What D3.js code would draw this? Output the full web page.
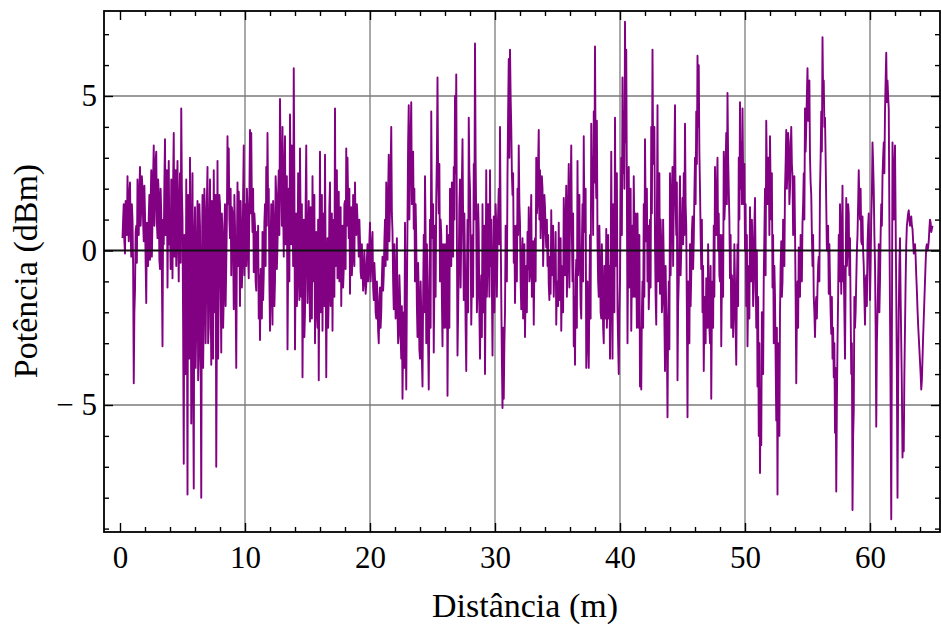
<!DOCTYPE html>
<html><head><meta charset="utf-8">
<script src="https://cdn.jsdelivr.net/npm/d3@7"></script>
<style>
body{margin:0;background:#fff}
text{font-family:"Liberation Serif","Times New Roman",serif;fill:#000}
</style>
</head><body>
<svg id="chart" width="941" height="629"></svg>
<script>
// Sampling of the distance axis (m)
const startDistance = 0.2;
const stepDistance = 0.1;
// Received power (dBm) at 0.2, 0.3, ... 65.0 m
const power = [
0.4,1.5,-0.1,1.3,2.4,0.3,2.2,-0.2,
1.0,-4.3,-1.3,0.8,2.3,0.5,2.7,1.4,2.0,0.3,
1.2,-1.7,0.6,1.1,-0.3,2.6,1.0,3.4,1.5,3.2,
0.4,1.8,-0.6,1.2,-3.1,0.2,3.6,1.7,-1.2,2.9,
0.8,2.3,-0.9,3.8,1.7,-0.5,2.9,-1.0,2.5,4.6,
1.0,-6.9,-2.0,2.3,-7.9,-1.5,3.0,-5.6,2.5,-7.7,
1.4,-2.5,1.6,-3.5,0.8,-8.0,1.8,-2.0,1.2,-1.0,
2.7,-2.5,2.3,-3.7,1.0,2.6,-2.0,-7.0,2.9,-1.2,
1.5,-3.3,0.5,-1.5,1.5,-0.5,3.7,3.3,0.4,-0.8,
1.2,-1.9,0.8,-3.8,2.2,1.9,-1.8,0.5,-0.4,3.4,
1.5,-0.5,1.4,-0.9,3.9,3.8,0.6,-0.7,0.8,-1.3,
-0.5,-2.2,-2.9,-1.3,0.6,-0.8,1.5,2.7,3.8,2.0,
-2.6,1.5,-2.4,0.8,-1.0,1.8,0.2,2.6,4.9,2.0,
4.0,-0.2,3.7,0.5,-3.2,2.0,4.4,0.2,2.5,5.9,
-3.2,1.2,-1.0,2.0,3.3,-1.5,-4.1,1.0,-2.0,3.4,
-1.7,1.6,-2.3,0.8,2.4,-1.0,-3.0,0.6,-2.5,-4.2,
3.2,-0.5,-2.6,1.2,3.1,-4.1,0.4,-1.5,2.2,-0.5,
-2.6,1.0,4.6,0.8,-0.9,1.9,-0.3,-1.8,0.8,-0.6,
1.6,3.3,3.0,0.4,-1.4,1.4,-0.3,1.2,2.2,0.5,
1.0,-0.2,0.3,-0.9,-0.5,-1.0,-0.6,-1.1,0.2,-0.7,
0.9,-0.5,0.6,-1.6,-0.9,-2.2,-1.5,-3.0,-1.2,-2.0,
-0.2,-0.8,1.0,2.2,-0.3,3.1,1.4,4.0,0.6,-1.9,
-0.9,-1.2,-2.0,-2.7,-1.5,-3.5,-4.8,-2.0,0.9,-4.5,
1.0,4.7,2.5,4.8,2.4,0.7,-1.0,0.4,-2.8,-1.5,
-3.5,-2.0,-4.4,0.5,2.4,-3.0,-1.0,-4.5,1.0,4.5,
0.4,-3.3,0.8,1.7,5.6,1.2,-1.0,0.5,-3.1,-1.0,
0.2,-2.5,-4.7,0.5,2.0,-0.5,1.2,2.7,5.0,5.7,
-3.4,-0.5,2.3,0.5,3.6,-1.6,-0.4,-3.9,1.0,4.3,
2.0,-2.4,0.5,2.8,6.7,0.9,-1.4,0.6,-3.5,-0.8,
1.5,-1.0,-4.0,2.6,-0.3,0.3,2.6,1.0,-3.4,1.1,
-0.6,0.8,0.2,2.0,4.0,-1.5,-5.1,-4.8,-2.0,0.2,
2.5,6.2,6.5,4.0,1.8,-0.4,-1.7,0.8,2.0,3.4,
0.9,-1.9,0.4,-1.5,-2.8,-0.5,0.6,1.4,-0.8,1.8,
-0.9,-2.4,0.4,3.0,1.5,3.9,2.6,1.2,2.0,0.5,
1.4,0.1,-0.5,-1.1,-0.2,1.3,0.2,-1.5,-0.8,-2.4,
-1.0,0.9,-1.0,-2.6,-0.5,1.7,-0.8,2.1,-0.5,2.8,
1.0,3.4,-1.0,-3.1,-3.7,-0.3,2.9,0.5,-0.3,-2.2,
1.5,3.7,0.6,-3.8,-1.0,-3.8,0.5,4.1,3.0,4.5,
6.6,1.7,0.3,-1.5,-0.5,-2.2,-1.0,-3.0,-0.8,0.7,
-1.5,-2.2,-3.5,3.2,-3.5,0.5,4.3,1.0,-1.9,-4.0,
-1.0,3.0,5.6,4.5,7.4,6.5,-3.0,2.7,0.5,-2.6,
0.8,2.4,-1.5,-0.4,1.2,-2.5,-4.4,-4.5,-1.0,1.5,
3.6,0.3,-1.0,-1.9,1.0,4.0,6.5,2.8,0.3,-2.4,
4.7,1.5,-1.4,0.2,-1.6,-0.3,-3.9,-2.0,-5.4,-1.0,
2.5,0.8,2.7,1.5,4.7,0.5,-4.2,-1.0,2.4,0.0,
1.7,2.5,4.1,0.8,-5.4,-2.0,0.2,-0.8,1.1,0.3,
3.0,4.5,6.3,6.0,2.0,-0.6,-2.0,-3.9,-1.5,-0.9,
-2.5,-1.2,-3.0,-4.8,-1.0,0.8,2.7,0.5,3.0,1.2,
-1.0,-3.1,0.5,3.2,1.5,3.8,5.1,2.0,-0.9,-2.5,
-1.2,-2.0,-1.0,-3.7,0.2,3.0,4.8,3.5,4.6,1.5,
0.0,-1.8,-3.1,-0.5,1.4,-1.0,0.2,-1.2,1.7,-2.5,
-4.4,-6.0,-7.2,-6.3,-2.5,-0.9,2.0,4.2,1.5,3.0,
3.7,1.0,-1.2,-3.0,-1.5,-5.5,-7.9,-5.0,-2.0,0.3,
-1.0,0.4,2.0,3.9,2.6,3.5,2.0,4.0,2.4,1.5,
0.7,-4.3,-1.0,0.1,-1.5,0.3,0.9,2.5,4.6,4.0,
5.9,5.0,3.0,1.8,-0.5,-1.5,-2.8,-1.5,-1.2,-0.2,
2.0,4.5,6.9,5.5,4.3,1.5,0.3,-1.4,-1.0,-2.7,
-3.5,-4.1,-5.9,-7.8,-3.0,0.5,1.5,-1.4,2.1,-0.5,
-3.5,1.7,0.0,1.2,0.4,-4.0,-8.4,-5.2,-2.5,-1.0,
0.5,2.6,1.0,0.3,1.1,-0.5,-2.4,-0.8,0.2,1.2,
-1.6,1.0,3.5,2.0,-0.4,-5.7,-2.0,0.2,-1.0,1.5,
2.4,3.5,4.5,6.4,5.5,4.6,-2.0,-8.7,3.5,1.0,
3.4,-1.4,-8.0,-2.0,0.4,-3.0,-6.7,-6.5,-2.5,0.2,
1.0,1.3,0.8,1.1,0.7,-0.1,0.2,-0.8,-1.9,-2.8,
-3.6,-4.5,-3.5,-2.2,-1.0,0.1,0.0,0.3,1.0,0.6,
0.8
];
// Received power (dBm) read at the half steps 0.25, 0.35, ... 64.95 m
const powerHalfStep = [
1.0,0.3,1.6,0.5,1.2,1.8,0.6,1.5,
-0.5,-2.0,0.6,-0.4,1.2,1.9,0.8,2.4,0.9,2.1,
-0.4,0.9,-0.5,1.8,1.5,-0.2,2.4,0.8,2.9,0.9,
2.3,-0.3,2.0,-0.8,1.0,2.2,0.5,2.6,1.1,0.2,
-0.6,1.4,2.2,-0.2,2.6,1.8,0.3,1.5,-0.4,2.0,
-2.5,0.5,-4.0,-1.0,1.8,-3.5,0.8,-2.0,-4.0,0.5,
-3.8,0.3,-4.2,1.5,-3.0,-0.5,-3.8,2.0,-3.0,1.6,
-3.0,1.0,-1.5,1.6,-3.5,-0.5,1.8,-2.5,-3.5,1.8,
-1.0,1.2,-2.5,0.8,-1.8,1.0,1.5,1.0,2.0,1.4,
0.2,1.8,-1.5,0.0,-0.5,0.5,1.6,-1.2,1.8,-0.8,
0.8,2.0,-0.2,1.8,1.2,1.5,2.0,1.2,-1.0,0.6,
0.8,-0.8,-0.6,-2.2,-1.6,0.9,-0.5,0.8,1.4,-1.0,
0.2,-1.5,1.6,-1.8,2.4,-0.6,1.8,0.5,3.0,0.8,
1.5,2.6,0.2,2.4,-0.5,-1.0,2.0,3.4,-0.5,2.2,
-0.5,-1.8,2.5,-1.6,0.8,1.5,-1.0,-2.8,1.5,-0.3,
0.5,-1.0,1.4,-2.2,-0.2,1.8,-0.5,-2.0,1.0,-0.6,
-2.0,1.8,0.4,-1.8,-0.2,-1.0,-2.5,1.4,-1.8,1.2,
0.5,-1.5,-0.5,2.6,1.2,-1.0,1.4,0.6,-1.2,1.5,
-0.6,0.8,1.6,2.0,0.6,-0.8,1.8,-0.5,0.6,1.5,
0.6,1.0,-0.7,0.2,-1.3,0.0,-1.4,-0.3,-1.0,0.3,
-1.0,0.2,-1.2,-0.4,-2.0,-1.0,-2.6,-1.8,-2.5,-0.9,
-1.3,0.3,-0.5,0.5,1.8,0.3,2.6,1.2,-1.0,0.2,
-2.2,0.4,-3.0,-0.8,-2.8,-1.8,-3.0,-3.8,-2.5,-1.5,
3.5,1.0,3.8,1.5,3.2,2.0,1.5,-1.8,-0.4,-3.2,
-1.0,-3.5,-1.5,-2.0,0.5,0.2,-3.0,-2.0,-2.5,1.5,
1.5,-1.0,-1.5,3.0,2.5,2.8,1.0,-1.5,0.2,-2.5,
-1.5,0.8,-1.8,-2.5,0.8,2.2,-0.2,1.0,2.5,0.5,
-2.0,1.5,-1.2,2.2,1.0,1.2,-2.5,-1.0,-2.0,2.6,
0.2,-1.0,-1.5,1.0,3.0,-2.0,1.5,-2.0,-1.5,-2.8,
-2.0,0.8,-1.2,-1.5,1.5,-1.5,-0.5,-1.2,-0.8,-2.0,
1.5,-1.5,1.2,0.2,1.0,-3.5,-2.5,-3.0,0.8,-1.0,
4.5,3.0,5.0,2.5,2.5,0.8,-0.2,-1.0,0.5,1.5,
-1.0,-0.3,-2.2,0.2,-1.2,-2.0,-0.6,-1.0,0.8,-1.5,
0.3,-0.5,-1.0,1.2,2.8,1.0,0.4,2.4,-0.5,1.8,
0.6,1.0,0.5,-1.6,-1.4,-0.8,0.8,-0.5,0.6,-1.0,
-1.8,-1.6,0.4,-1.2,-2.0,0.2,1.0,-1.5,1.5,-1.2,
2.0,0.5,1.2,-1.5,-1.0,-2.5,-0.8,1.8,-1.8,0.2,
-1.0,0.8,2.0,-2.0,-3.0,-1.5,-2.2,1.8,0.5,2.2,
3.0,4.2,-1.0,0.8,-2.0,0.2,-2.5,-0.5,-2.2,-2.5,
0.5,-0.5,-1.0,-0.8,1.5,-2.0,-0.5,2.5,-3.0,-2.0,
1.5,0.5,2.5,2.0,3.5,2.0,0.0,-1.2,2.0,-0.8,
-1.5,0.5,1.2,-2.5,-0.8,0.5,-2.5,-2.0,-2.5,-1.5,
1.2,2.0,0.8,-1.0,-1.2,1.2,3.0,4.0,-1.5,1.0,
-1.0,2.5,1.0,-2.0,1.0,-2.2,-0.5,-3.0,-2.5,-3.2,
-0.8,2.0,-0.5,3.0,1.5,2.2,-1.8,1.0,-0.8,0.8,
0.2,0.5,1.5,-2.0,-1.0,-3.0,-1.8,0.6,-0.6,1.8,
1.5,2.8,4.0,3.2,0.5,1.0,-0.5,-2.0,-3.0,-2.5,
0.2,-2.5,-0.5,-2.0,-2.5,-1.5,0.5,2.0,0.0,-0.8,
0.5,-1.0,-1.5,1.0,2.8,1.5,3.0,1.0,0.5,-0.8,
-2.8,0.2,-2.5,-1.2,-1.8,1.0,2.0,1.5,2.5,2.8,
1.5,0.5,-1.5,-2.2,-0.5,1.0,-1.8,0.8,-0.5,0.0,
-1.5,-3.0,-4.5,-2.0,-4.0,0.5,-0.8,2.5,3.0,0.5,
2.0,2.5,0.5,-0.5,-3.5,-2.5,-3.0,-6.0,-0.5,-1.5,
1.0,-0.5,2.8,2.0,3.8,1.5,3.2,2.8,0.5,2.4,
-1.5,-2.0,-2.5,-1.0,0.5,-1.0,1.5,1.0,3.2,5.0,
4.2,5.5,2.2,0.5,0.5,-2.0,-1.8,-2.2,-0.5,-1.0,
3.0,3.2,5.0,4.0,3.0,0.0,0.8,0.2,-2.0,-1.5,
-2.5,-3.0,-3.8,-5.0,-1.5,-1.0,0.2,0.5,-1.0,-2.0,
-1.0,-0.5,1.5,-0.8,-2.0,-3.0,-6.0,-1.5,-2.0,0.0,
1.5,1.5,2.0,0.2,0.0,-1.5,-1.0,-1.8,0.8,-0.5,
-0.5,1.8,2.8,0.5,-2.5,-3.0,-1.0,-2.0,0.5,0.8,
3.0,2.5,5.5,4.8,5.0,1.0,-5.0,-3.0,2.5,2.2,
1.0,-4.0,-4.5,-0.5,-1.5,-4.5,-5.5,-4.0,-1.0,0.8,
1.2,1.0,1.0,0.8,0.3,0.0,-0.2,-1.3,-2.4,-3.2,
-4.0,-4.2,-2.8,-1.6,-0.4,0.2,0.1,0.7,0.9,0.7
];
const xMajorTicks = [0,10,20,30,40,50,60];
const xMinorTicks = [2,4,6,8,12,14,16,18,22,24,26,28,32,34,36,38,42,44,46,48,52,54,56,58,62,64];
const xGridLines = [10,20,30,40,50,60];
const yMajorTicks = [-5,0,5];
const yMinorTicks = [-9,-8,-7,-6,-4,-3,-2,-1,1,2,3,4,6,7];
const yGridLines = [-5,5];
const xTitle = "Distância (m)";
const yTitle = "Potência (dBm)";

const svg = d3.select("#chart");
const L = 104, R = 940, T = 11, B = 532;
const x = d3.scaleLinear().domain([-1.28, 65.6]).range([L, R]);
const y = d3.scaleLinear().domain([-9.11, 7.75]).range([B, T]);

const data = [];
power.forEach((v, i) => {
  const d = startDistance + i * stepDistance;
  data.push({d: d, p: v});
  if (i < powerHalfStep.length) data.push({d: d + stepDistance / 2, p: powerHalfStep[i]});
});

// grid
svg.append("g").selectAll("line").data(xGridLines).join("line")
  .attr("x1", d => x(d)).attr("x2", d => x(d)).attr("y1", T).attr("y2", B)
  .attr("stroke", "#7a7a7a").attr("stroke-width", 1.3);
svg.append("g").selectAll("line").data(yGridLines).join("line")
  .attr("x1", L).attr("x2", R).attr("y1", d => y(d)).attr("y2", d => y(d))
  .attr("stroke", "#7a7a7a").attr("stroke-width", 1.3);

// clip
svg.append("clipPath").attr("id", "clip").append("rect")
  .attr("x", L).attr("y", T).attr("width", R - L).attr("height", B - T);

// data line
svg.append("path").datum(data)
  .attr("clip-path", "url(#clip)")
  .attr("fill", "none").attr("stroke", "#820082").attr("stroke-width", 1.9)
  .attr("stroke-linejoin", "round")
  .attr("d", d3.line().x(d => x(d.d)).y(d => y(d.p)));

// zero axis
svg.append("line").attr("x1", L).attr("x2", R).attr("y1", y(0)).attr("y2", y(0))
  .attr("stroke", "#111").attr("stroke-width", 2);

function fmt(v) { return v < 0 ? "\u2212 " + Math.abs(v) : String(v); }
function styleAxis(g) {
  g.select(".domain").remove();
  g.selectAll(".tick line").attr("stroke", "#000").attr("stroke-width", 1.4);
  g.selectAll("text").attr("font-size", 31).style("font-family", '"Liberation Serif","Times New Roman",serif');
}

// bottom
svg.append("g").attr("transform", `translate(0,${B})`)
  .call(d3.axisBottom(x).tickValues(xMajorTicks).tickSizeInner(-9).tickSizeOuter(0).tickPadding(14).tickFormat(fmt))
  .call(styleAxis);
svg.append("g").attr("transform", `translate(0,${B})`)
  .call(d3.axisBottom(x).tickValues(xMinorTicks).tickSizeInner(-5).tickSizeOuter(0).tickFormat(""))
  .call(styleAxis);
// top
svg.append("g").attr("transform", `translate(0,${T})`)
  .call(d3.axisTop(x).tickValues(xMajorTicks).tickSizeInner(-9).tickSizeOuter(0).tickFormat(""))
  .call(styleAxis);
svg.append("g").attr("transform", `translate(0,${T})`)
  .call(d3.axisTop(x).tickValues(xMinorTicks).tickSizeInner(-5).tickSizeOuter(0).tickFormat(""))
  .call(styleAxis);
// left
svg.append("g").attr("transform", `translate(${L},0)`)
  .call(d3.axisLeft(y).tickValues(yMajorTicks).tickSizeInner(-9).tickSizeOuter(0).tickPadding(7).tickFormat(fmt))
  .call(styleAxis);
svg.append("g").attr("transform", `translate(${L},0)`)
  .call(d3.axisLeft(y).tickValues(yMinorTicks).tickSizeInner(-5).tickSizeOuter(0).tickFormat(""))
  .call(styleAxis);
// right
svg.append("g").attr("transform", `translate(${R},0)`)
  .call(d3.axisRight(y).tickValues(yMajorTicks).tickSizeInner(-9).tickSizeOuter(0).tickFormat(""))
  .call(styleAxis);
svg.append("g").attr("transform", `translate(${R},0)`)
  .call(d3.axisRight(y).tickValues(yMinorTicks).tickSizeInner(-5).tickSizeOuter(0).tickFormat(""))
  .call(styleAxis);

// frame
svg.append("rect").attr("x", L).attr("y", T).attr("width", R - L).attr("height", B - T)
  .attr("fill", "none").attr("stroke", "#000").attr("stroke-width", 1.8);

// titles
svg.append("text").attr("x", 525).attr("y", 617).attr("text-anchor", "middle")
  .attr("font-size", 34).text(xTitle);
svg.append("text").attr("transform", "translate(37,271) rotate(-90)").attr("text-anchor", "middle")
  .attr("font-size", 34).text(yTitle);
</script>
</body></html>
